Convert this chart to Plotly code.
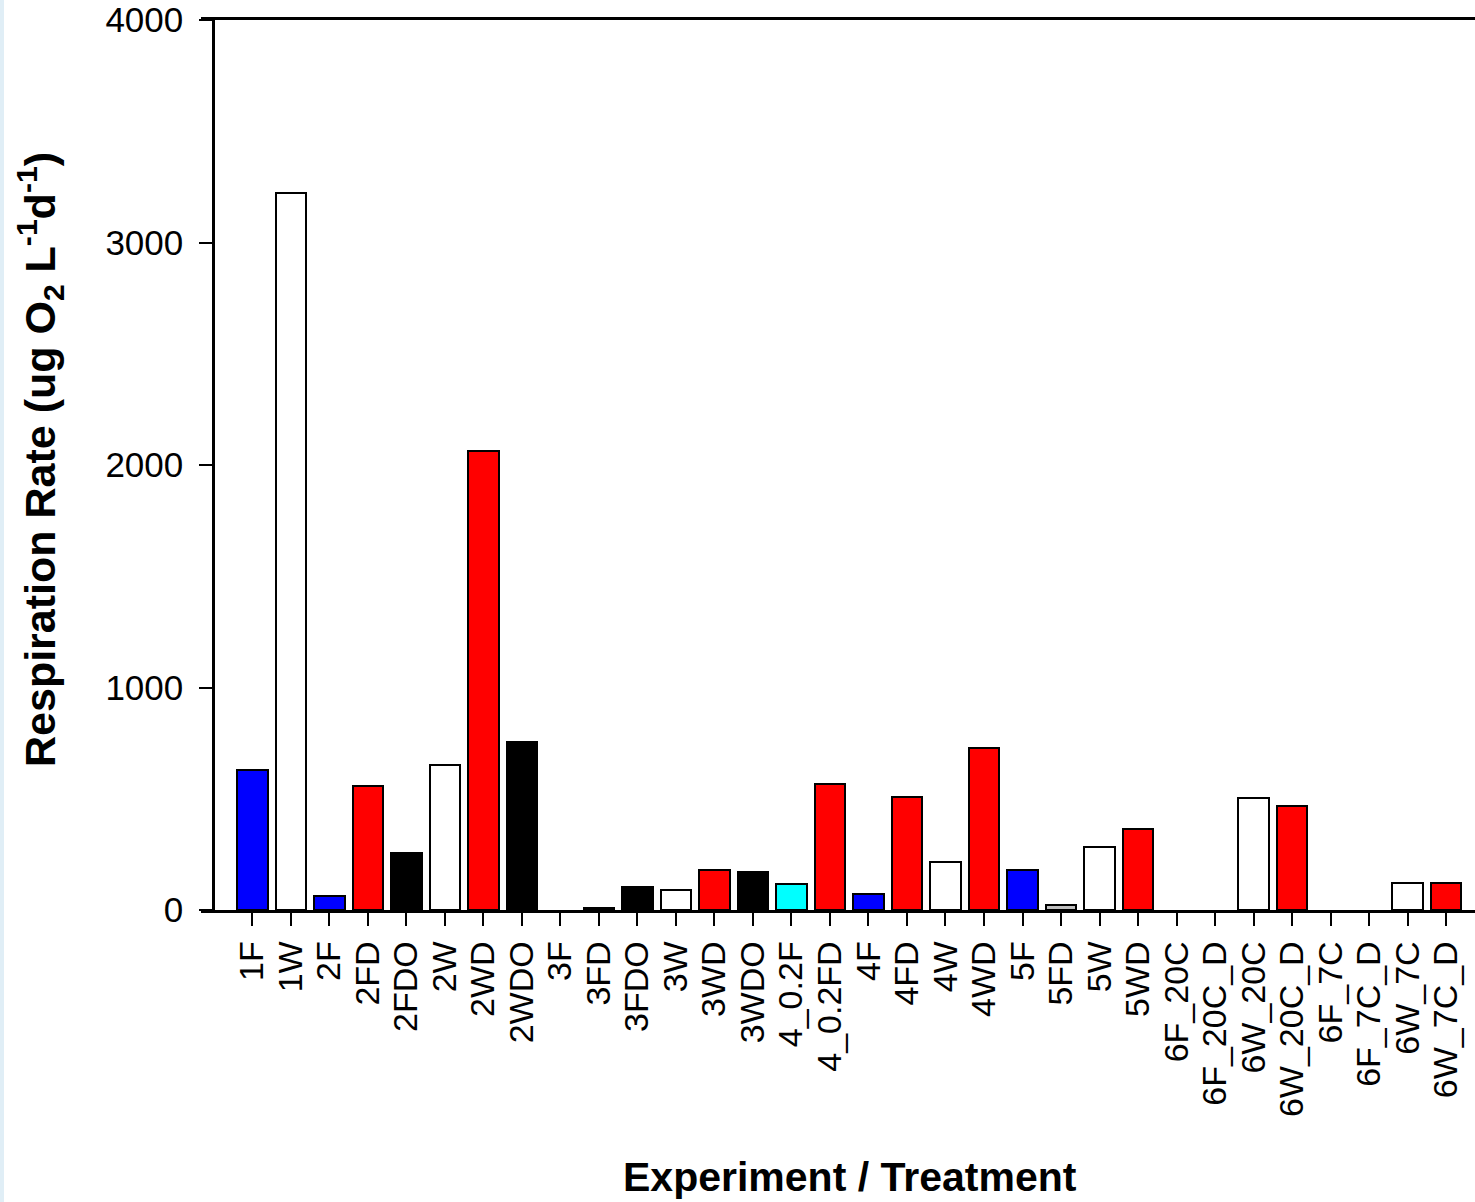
import plotly.graph_objects as go

categories = ["1F", "1W", "2F", "2FD", "2FDO", "2W", "2WD", "2WDO",
              "3F", "3FD", "3FDO", "3W", "3WD", "3WDO", "4_0.2F", "4_0.2FD",
              "4F", "4FD", "4W", "4WD", "5F", "5FD", "5W", "5WD",
              "6F_20C", "6F_20C_D", "6W_20C", "6W_20C_D", "6F_7C", "6F_7C_D", "6W_7C", "6W_7C_D"]
values = [629, 3222, 63, 557, 256, 652, 2063, 755,
          0, 9, 103, 90, 180, 171, 117, 566,
          72, 508, 216, 728, 180, 22, 283, 364,
          0, 0, 503, 467, 0, 0, 121, 121]
bar_colors = ["#0000ff", "#ffffff", "#0000ff", "#ff0000", "#000000", "#ffffff", "#ff0000", "#000000",
              "#ffffff", "#000000", "#000000", "#ffffff", "#ff0000", "#000000", "#00ffff", "#ff0000",
              "#0000ff", "#ff0000", "#ffffff", "#ff0000", "#0000ff", "#c0c0c0", "#ffffff", "#ff0000",
              "#ffffff", "#ffffff", "#ffffff", "#ff0000", "#ffffff", "#ffffff", "#ffffff", "#ff0000"]
y_ticks = [0, 1000, 2000, 3000, 4000]

W, H = 1475, 1202
TOP, BOTTOM = 20, 910
x_left_px, y_axis_px = 201, 213


def py(p):
    return (BOTTOM - p) / (BOTTOM - TOP)


fig = go.Figure()
fig.add_trace(go.Bar(
    x=list(range(len(categories))), y=values,
    width=0.79,
    marker=dict(color=bar_colors,
                line=dict(color="black", width=[2 if v > 0 else 0 for v in values])),
    showlegend=False,
))

font = "Liberation Sans, Arial, sans-serif"
fig.update_layout(
    width=W, height=H,
    margin=dict(l=0, r=0, t=TOP, b=H - BOTTOM, pad=0),
    paper_bgcolor="white", plot_bgcolor="white",
    font=dict(family=font, color="black"),
    bargap=0,
    xaxis=dict(
        domain=[x_left_px / W, 1],
        range=[-1.332, 31.75],
        tickmode="array",
        tickvals=list(range(len(categories))),
        ticktext=categories,
        tickangle=-90,
        tickfont=dict(size=34, family=font, color="black"),
        ticks="outside", ticklen=13, tickwidth=2, tickcolor="black",
        showline=True, linecolor="black", linewidth=2.5, mirror=True,
        showgrid=False, zeroline=False,
        ticklabelstandoff=2,
    ),
    yaxis=dict(
        anchor="free", position=y_axis_px / W,
        range=[0, 4000],
        tickmode="array", tickvals=y_ticks, ticktext=[str(v) for v in y_ticks],
        tickfont=dict(size=35, family=font, color="black"),
        ticks="outside", ticklen=13, tickwidth=2, tickcolor="black",
        showline=True, linecolor="black", linewidth=2.5,
        showgrid=False, zeroline=False,
        ticklabelstandoff=9,
    ),
    annotations=[
        dict(text="<b>Respiration Rate (ug O<sub>2</sub> L<sup>-1</sup>d<sup>-1</sup>)</b>",
             xref="paper", yref="paper", x=40 / W, y=py(460),
             xanchor="center", yanchor="middle", textangle=-90, showarrow=False,
             font=dict(size=43, family=font, color="black")),
        dict(text="<b>Experiment / Treatment</b>",
             xref="paper", yref="paper", x=850 / W, y=py(1177),
             xanchor="center", yanchor="middle", showarrow=False,
             font=dict(size=41, family=font, color="black")),
    ],
    shapes=[
        dict(type="rect", xref="paper", yref="paper", x0=0, x1=4 / W, y0=py(H), y1=py(0),
             fillcolor="#e0eef6", line=dict(width=0), layer="below"),
    ],
)

fig.write_html("out.html")
